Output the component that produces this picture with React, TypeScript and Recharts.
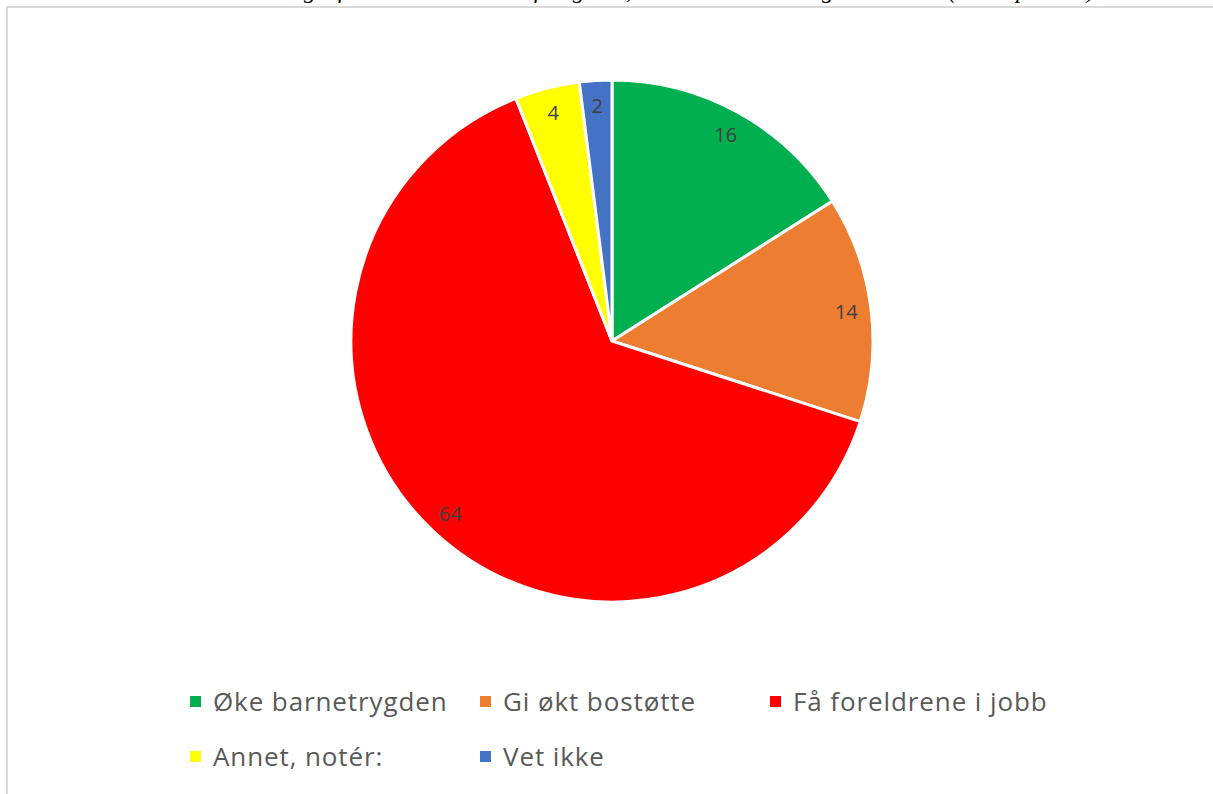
import { PieChart, Pie, Cell, Legend } from "recharts";

const categories = ["Øke barnetrygden", "Gi økt bostøtte", "Få foreldrene i jobb", "Annet, notér:", "Vet ikke"];
const values = [16, 14, 64, 4, 2];
const colors = ["#00b050", "#ed7d31", "#ff0000", "#ffff00", "#4472c4"];

const data = categories.map((name, i) => ({ name, value: values[i] }));

const RAD = Math.PI / 180;
const renderLabel = (p: any) => {
  const r = p.outerRadius * 0.905;
  const x = p.cx + r * Math.cos(-p.midAngle * RAD);
  const y = p.cy + r * Math.sin(-p.midAngle * RAD);
  return (
    <text x={x} y={y} fill="#404040" fontSize={20} fontFamily="'Open Sans', sans-serif" textAnchor="middle" dominantBaseline="central">
      {p.value}
    </text>
  );
};

const legendContent = () => (
  <div style={{ display: "grid", gridTemplateColumns: "290px 290px 290px", rowGap: 21, fontFamily: "'Open Sans', sans-serif", fontSize: 26, letterSpacing: 0.9, color: "#595959" }}>
    {categories.map((c, i) => (
      <div key={c} style={{ display: "flex", alignItems: "center", height: 34, whiteSpace: "nowrap" }}>
        <span style={{ width: 11, height: 11, background: colors[i], marginRight: 12, display: "inline-block" }} />
        <span>{c}</span>
      </div>
    ))}
  </div>
);

export default function App() {
  return (
    <div style={{ position: "absolute", left: 0, top: 0, width: 1213, height: 794, overflow: "hidden", background: "#fff" }}>
      <div style={{ position: "absolute", left: 10, top: -23, fontFamily: "'Liberation Serif', 'DejaVu Serif', serif", fontStyle: "italic", fontSize: 24, color: "#000", whiteSpace: "nowrap" }}>
        Hvilket tiltak mener du er viktigst for å redusere barnefattigdom, hvis du kun kan velge ett tiltak? (svar i prosent)
      </div>
      <div style={{ position: "absolute", left: 6, top: 6, width: 1213, height: 800, borderLeft: "2px solid #d9d9d9", borderTop: "2px solid #d9d9d9", background: "#fff" }} />
      <div style={{ position: "absolute", left: 0, top: 0 }}>
        <PieChart width={1213} height={794} margin={{ top: 0, right: 0, bottom: 0, left: 0 }}>
          <Pie
            data={data}
            dataKey="value"
            nameKey="name"
            cx={612}
            cy={341}
            outerRadius={261}
            startAngle={90}
            endAngle={-270}
            stroke="#ffffff"
            strokeWidth={3}
            label={renderLabel}
            labelLine={false}
            isAnimationActive={false}
          >
            {data.map((d, i) => (
              <Cell key={d.name} fill={colors[i]} />
            ))}
          </Pie>
          <Legend content={legendContent} wrapperStyle={{ position: "absolute", left: 190, top: 684, width: 900 }} />
        </PieChart>
      </div>
    </div>
  );
}
